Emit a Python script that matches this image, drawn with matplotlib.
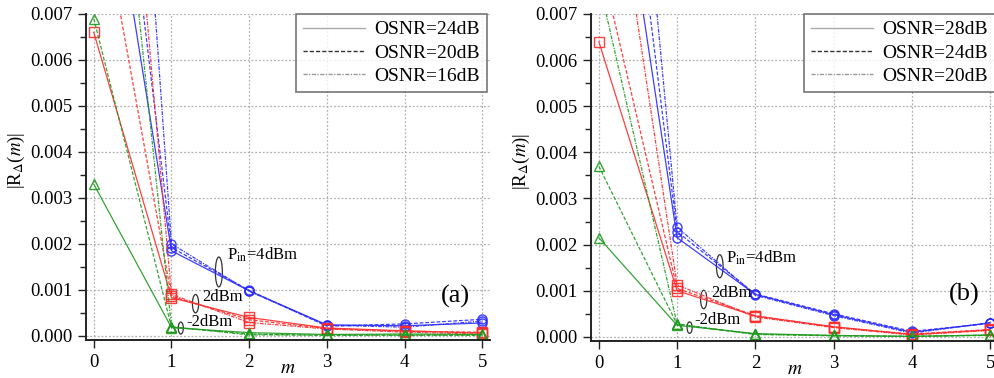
import matplotlib
matplotlib.use("Agg")
import matplotlib.pyplot as plt
from matplotlib.patches import Ellipse
from matplotlib.lines import Line2D

plt.rcParams['font.family'] = ['Liberation Serif', 'DejaVu Serif']
plt.rcParams['mathtext.fontset'] = 'stix'

m = [0, 1, 2, 3, 4, 5]

# Panel (a): OSNR = 24, 20, 16 dB
a_blue_24 = [0.0124, 0.00185, 0.00098, 0.00024, 0.00022, 0.00028]
a_blue_20 = [0.0160, 0.00192, 0.00099, 0.00021, 0.00026, 0.00036]
a_blue_16 = [0.0260, 0.00200, 0.00097, 0.00023, 0.00019, 0.00032]
a_red_24 = [0.0066, 0.00083, 0.00040, 0.00017, 0.00011, 0.00006]
a_red_20 = [0.0102, 0.00086, 0.00035, 0.00016, 0.00010, 0.00008]
a_red_16 = [0.0200, 0.00090, 0.00029, 0.00015, 0.00008, 0.00004]
a_green_24 = [0.0033, 0.00018, 0.00007, 0.00003, 0.00004, 0.00003]
a_green_20 = [0.0069, 0.00019, 0.00004, 0.00001, 0.00002, 0.00001]
a_green_16 = [0.0164, 0.00020, 0.00002, 0.00002, 0.00001, 0.00002]
a_legend = ['OSNR=24dB', 'OSNR=20dB', 'OSNR=16dB']

# Panel (b): OSNR = 28, 24, 20 dB
b_blue_28 = [0.0134, 0.00215, 0.00092, 0.00048, 0.00010, 0.00030]
b_blue_24 = [0.0159, 0.00228, 0.00093, 0.00050, 0.00012, 0.00029]
b_blue_20 = [0.0204, 0.00238, 0.00090, 0.00046, 0.00008, 0.00031]
b_red_28 = [0.0064, 0.00100, 0.00045, 0.00022, 0.00005, 0.00015]
b_red_24 = [0.0083, 0.00105, 0.00046, 0.00021, 0.00006, 0.00016]
b_red_20 = [0.0124, 0.00113, 0.00043, 0.00020, 0.00004, 0.00014]
b_green_28 = [0.00215, 0.00025, 0.00007, 0.00003, 0.00001, 0.00004]
b_green_24 = [0.0037, 0.00027, 0.00006, 0.00002, 0.00001, 0.00003]
b_green_20 = [0.0077, 0.00028, 0.00005, 0.00003, 0.00001, 0.00004]
b_legend = ['OSNR=28dB', 'OSNR=24dB', 'OSNR=20dB']

BLUE = '#2a2aff'
RED = '#ff2a2a'
GREEN = '#1f9a1f'
styles = ['-', (0, (3, 1.5)), (0, (3, 1, 1, 1))]

fig = plt.figure(figsize=(9.95, 3.78), dpi=100)
W, H = 995, 378
ax_a = fig.add_axes([86 / W, 38 / H, 404 / W, 326 / H])
ax_b = fig.add_axes([591 / W, 37 / H, 407 / W, 327 / H])


def draw(ax, blue, red, green, legend, tag, ann):
    for series, color, mk in ((blue, BLUE, 'o'), (red, RED, 's'), (green, GREEN, '^')):
        for vals, ls in zip(series, styles):
            ax.plot(m, vals, linestyle=ls, color=color, lw=0.9, marker=mk,
                    markersize=6.5, markerfacecolor='none', markeredgewidth=1.0,
                    alpha=0.9)
    ax.set_xlim(-0.1, 5.1)
    ax.set_ylim(-0.00009, 0.007)
    ax.set_xticks(range(6))
    ax.set_yticks([i * 0.001 for i in range(8)])
    ax.set_yticks([0.0005 + i * 0.001 for i in range(7)], minor=True)
    ax.set_yticklabels(['%.3f' % (i * 0.001) for i in range(8)])
    ax.grid(True, which='major', color='#b0b0b0', linestyle=(0, (1.5, 1.5)), lw=0.9)
    for s in ('top', 'right'):
        ax.spines[s].set_visible(False)
    for s in ('left', 'bottom'):
        ax.spines[s].set_linewidth(1.4)
        ax.spines[s].set_color('#222222')
    ax.tick_params(axis='both', which='major', direction='out', length=6, width=1.0,
                   labelsize=13.5, pad=4, color='#222222')
    ax.tick_params(axis='y', which='minor', direction='out', length=4, width=1.0,
                   color='#222222')
    ax.set_xlabel('$m$', fontsize=14)
    ax.xaxis.set_label_coords(0.5, -0.088)
    ax.xaxis.label.set_va('center')
    ax.set_ylabel(r'|R$_{\Delta}$($m$)|', fontsize=13.5)
    ax.yaxis.set_label_coords(-0.145, 0.55)

    handles = [Line2D([], [], color=c, lw=1.0, linestyle=ls)
               for c, ls in zip(['#aaaaaa', '#333333', '#999999'], styles)]
    leg = ax.legend(handles, legend, loc='upper right', bbox_to_anchor=(0.993, 1.0),
                    borderaxespad=0, fontsize=14, frameon=True, fancybox=False,
                    handlelength=3.2, handletextpad=0.5, labelspacing=0.3,
                    borderpad=0.35)
    leg.get_frame().set_edgecolor('#555555')
    leg.get_frame().set_linewidth(1.2)

    ax.text(tag[0], tag[1], tag[2], fontsize=19, ha='center', va='center')
    for (tx, ty, txt, ex, ey, ew, eh) in ann:
        ax.text(tx, ty, txt, fontsize=12, ha='left', va='center')
        ax.add_patch(Ellipse((ex, ey), ew, eh, fill=False, edgecolor='#333333', lw=0.9))


draw(ax_a, [a_blue_24, a_blue_20, a_blue_16], [a_red_24, a_red_20, a_red_16],
     [a_green_24, a_green_20, a_green_16], a_legend, (4.65, 0.00085, '(a)'),
     [(1.71, 0.00176, r'P$_{\rm in}$=4dBm', 1.61, 0.00139, 0.09, 0.00065),
      (1.40, 0.00085, '2dBm', 1.31, 0.00070, 0.08, 0.00040),
      (1.19, 0.00030, '-2dBm', 1.12, 0.00017, 0.065, 0.00026)])

draw(ax_b, [b_blue_28, b_blue_24, b_blue_20], [b_red_28, b_red_24, b_red_20],
     [b_green_28, b_green_24, b_green_20], b_legend, (4.67, 0.00092, '(b)'),
     [(1.62, 0.00171, r'P$_{\rm in}$=4dBm', 1.545, 0.00153, 0.085, 0.0005),
      (1.44, 0.00095, '2dBm', 1.34, 0.00081, 0.08, 0.0004),
      (1.22, 0.00036, '-2dBm', 1.16, 0.00020, 0.065, 0.00025)])

fig.savefig('out.png', dpi=100)
